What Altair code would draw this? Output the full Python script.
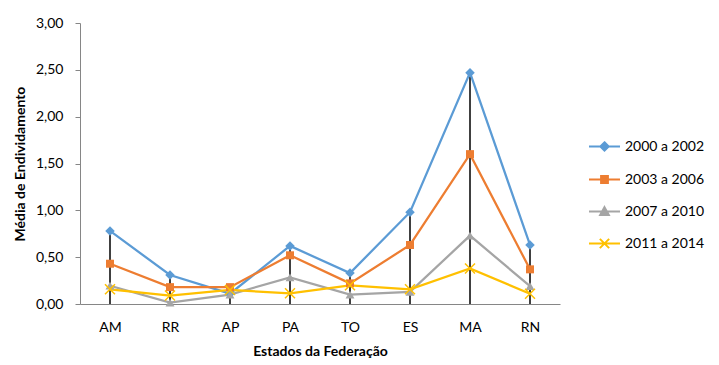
import altair as alt
import pandas as pd

states = ["AM", "RR", "AP", "PA", "TO", "ES", "MA", "RN"]
series_names = ["2000 a 2002", "2003 a 2006", "2007 a 2010", "2011 a 2014"]
s2000 = [0.78, 0.31, 0.11, 0.62, 0.33, 0.98, 2.47, 0.63]
s2003 = [0.43, 0.18, 0.18, 0.52, 0.22, 0.63, 1.60, 0.37]
s2007 = [0.195, 0.014, 0.10, 0.285, 0.10, 0.13, 0.73, 0.19]
s2011 = [0.157, 0.09, 0.15, 0.114, 0.20, 0.157, 0.38, 0.11]
colors = ["#5B9BD5", "#ED7D31", "#A5A5A5", "#FFC000"]

rows = []
for name, vals in zip(series_names, [s2000, s2003, s2007, s2011]):
    for st, v in zip(states, vals):
        rows.append({"state": st, "series": name, "value": v})
df = pd.DataFrame(rows)

FONT = "Lato"
xenc = alt.X("state:N", sort=states, title="Estados da Federação",
             scale=alt.Scale(type="point", padding=0.5),
             axis=alt.Axis(labelAngle=0, ticks=False, domainColor="#868686",
                           labelFontSize=14, labelPadding=16, titleFontSize=14,
                           titleFontWeight="bold", titlePadding=10,
                           labelColor="black", titleColor="black"))
yenc = alt.Y("value:Q", title="Média de Endividamento",
             scale=alt.Scale(domain=[0, 3], nice=False),
             axis=alt.Axis(values=[0, 0.5, 1, 1.5, 2, 2.5, 3], grid=False,
                           labelExpr="replace(format(datum.value, '.2f'), '.', ',')",
                           domainColor="#868686", tickColor="#868686", tickSize=5,
                           labelPadding=12, labelFontSize=14, titleFontSize=14,
                           titleFontWeight="bold", titlePadding=8,
                           labelColor="black", titleColor="black"))

base = alt.Chart(df)

rules = base.transform_aggregate(
    maxv="max(value)", groupby=["state"]
).transform_calculate(zero="0").mark_rule(color="black", strokeWidth=1.5).encode(
    x=xenc, y=alt.Y("maxv:Q"), y2="zero:Q")

layers = [rules]
for name, col in zip(series_names, colors):
    layers.append(base.transform_filter(alt.datum.series == name).mark_line(
        strokeWidth=2.25, color=col).encode(x=xenc, y=yenc))

shapes = ["diamond", "square", "triangle-up"]
sizes = [90, 64, 80]
for name, shp, sz, col in zip(series_names[:3], shapes, sizes, colors[:3]):
    layers.append(base.transform_filter(alt.datum.series == name).mark_point(
        shape=shp, filled=True, size=sz, color=col, opacity=1).encode(x=xenc, y=yenc))
layers.append(base.transform_filter(alt.datum.series == series_names[3]).mark_point(
    shape="M-1,-1L1,1M-1,1L1,-1", filled=False, size=100, color=colors[3],
    strokeWidth=1.5, opacity=1).encode(x=xenc, y=yenc))

legend_paths = [
    "M-1,0L1,0M0,-0.27L0.27,0L0,0.27L-0.27,0Z",
    "M-1,0L1,0M-0.22,-0.22L0.22,-0.22L0.22,0.22L-0.22,0.22Z",
    "M-1,0L1,0M0,-0.28L0.28,0.22L-0.28,0.22Z",
    "M-1,0L1,0M-0.3,-0.3L0.3,0.3M-0.3,0.3L0.3,-0.3",
]
leg = alt.Legend(title=None, orient="none", legendX=508, legendY=107,
                 symbolSize=961, symbolStrokeWidth=2, labelFontSize=14,
                 labelFont=FONT, labelColor="black", labelOffset=4, rowPadding=8)
legend_layer = base.transform_filter("false").mark_point(
    filled=True, size=961, strokeWidth=2, opacity=1).encode(
    x=xenc, y=yenc,
    fill=alt.Fill("series:N", scale=alt.Scale(domain=series_names, range=colors), legend=leg),
    stroke=alt.Stroke("series:N", scale=alt.Scale(domain=series_names, range=colors), legend=leg),
    shape=alt.Shape("series:N", scale=alt.Scale(domain=series_names, range=legend_paths), legend=leg),
)
layers.append(legend_layer)

chart = alt.layer(*layers).properties(
    width=480, height=281,
    autosize=alt.AutoSizeParams(type="none"),
    padding={"left": 72, "top": 15, "right": 150, "bottom": 55},
).configure(font=FONT).configure_view(stroke=None)

chart.save("out.html", embed_options={"renderer": "svg", "actions": False})
